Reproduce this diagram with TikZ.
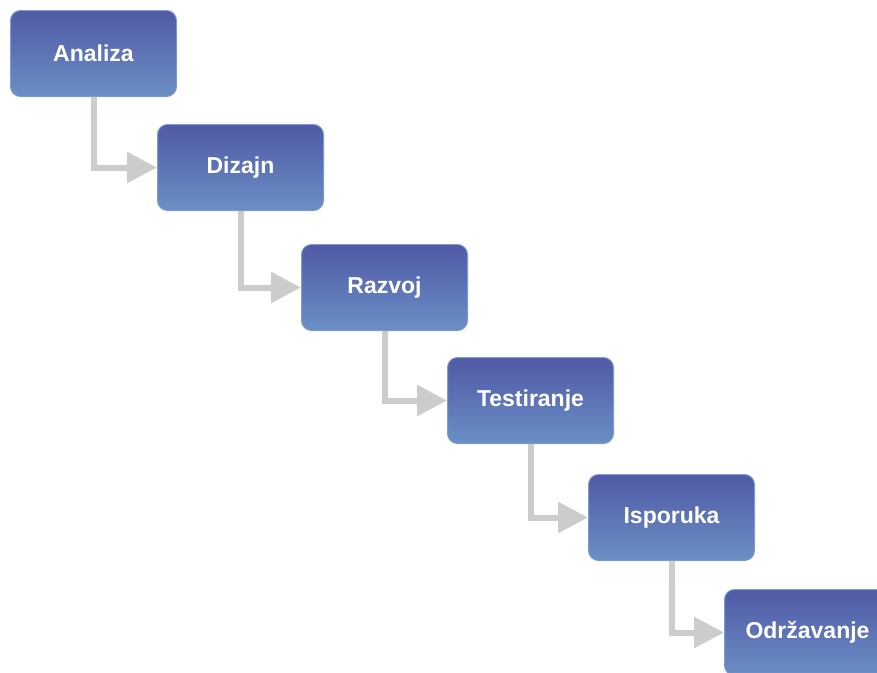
\documentclass[tikz,border=0pt]{standalone}
\usepackage{fontspec}
\setmainfont{Liberation Sans}
\usetikzlibrary{arrows.meta,shadows}
\definecolor{boxtop}{HTML}{5059A6}
\definecolor{boxbot}{HTML}{6B8FC5}
\definecolor{boxline}{HTML}{7C9BD0}
\definecolor{arrgray}{HTML}{CCCCCC}
\tikzset{
  phase/.style={draw=boxline, line width=1pt, rounded corners=10pt,
    top color=boxtop, bottom color=boxbot, minimum width=166pt, minimum height=86pt,
    inner sep=0pt, text=white, font=\bfseries\fontsize{23}{26}\selectfont, anchor=north west},
  flow/.style={draw=arrgray, line width=6pt, -{Triangle[width=30pt,length=30pt]}}
}
\begin{document}
\begin{tikzpicture}[x=1pt,y=-1pt]
\useasboundingbox (0,0) rectangle (877,672);
\node[phase] (a) at (10,10) {Analiza};
\node[phase] (b) at (157,124) {Dizajn};
\node[phase] (c) at (301,244) {Razvoj};
\node[phase] (d) at (447,357) {Testiranje};
\node[phase] (e) at (588,474) {Isporuka};
\node[phase] (f) at (724,589) {Održavanje};
\draw[flow] (a.south) |- (b.west);
\draw[flow] (b.south) |- (c.west);
\draw[flow] (c.south) |- (d.west);
\draw[flow] (d.south) |- (e.west);
\draw[flow] (e.south) |- (f.west);
\end{tikzpicture}
\end{document}
